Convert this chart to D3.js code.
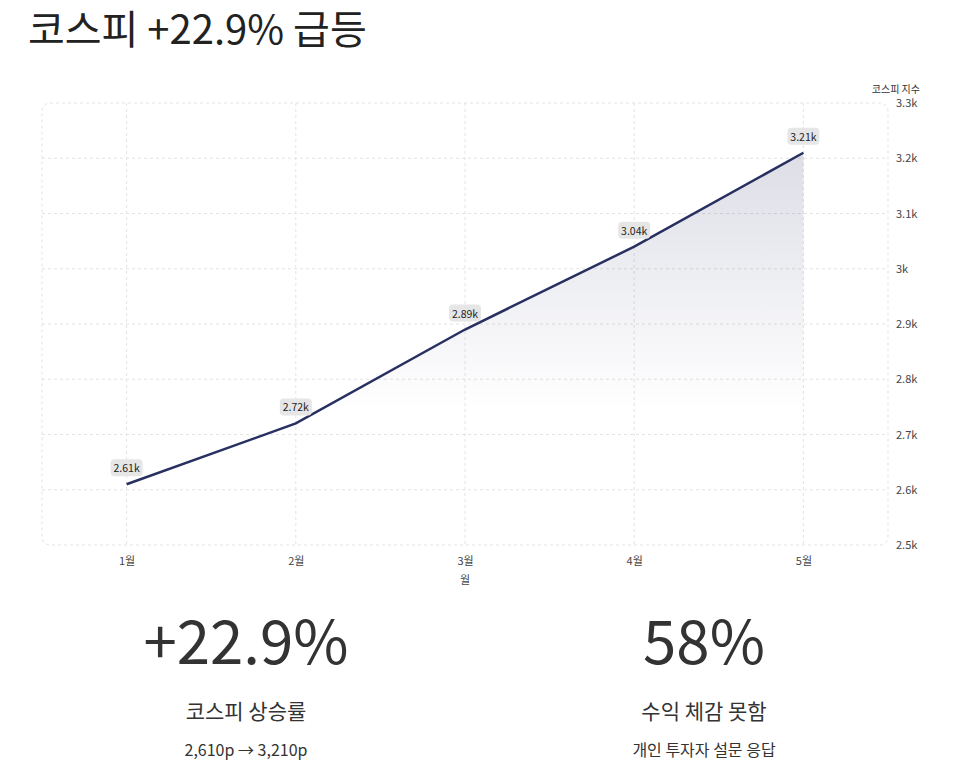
<!DOCTYPE html>
<html><head><meta charset="utf-8">
<script src="https://cdn.jsdelivr.net/npm/d3@7"></script>
<style>
body{margin:0;background:#fff;font-family:"Noto Sans CJK KR","Noto Sans",sans-serif;}
</style></head>
<body><svg id="c" width="966" height="777"></svg>
<script>
var months = ['1월','2월','3월','4월','5월'];
var kospi = [2610, 2720, 2890, 3040, 3210];
var yTicks = [2500,2600,2700,2800,2900,3000,3100,3200,3300];

var svg = d3.select('#c');
var pLeft = 42, pRight = 888, pTop = 103, pBottom = 545;
var font = '"Noto Sans CJK KR","Noto Sans",sans-serif';

svg.append('text').attr('x', 28).attr('y', 44).attr('font-size', 40).attr('fill', '#222')
  .attr('font-family', font).text('코스피 +22.9% 급등');

var x = d3.scalePoint().domain(months).range([pLeft, pRight]).padding(0.5);
var y = d3.scaleLinear().domain([2500, 3300]).range([pBottom, pTop]);
var fmt = function(v){ return v % 1000 === 0 ? (v/1000) + 'k' : (v/1000).toFixed(v % 100 === 0 ? 1 : 2) + 'k'; };

var defs = svg.append('defs');
var g = defs.append('linearGradient').attr('id', 'fill').attr('x1', 0).attr('x2', 0)
  .attr('gradientUnits', 'userSpaceOnUse').attr('y1', y(3210)).attr('y2', 410);
g.append('stop').attr('offset', 0).attr('stop-color', '#2a3163').attr('stop-opacity', 0.16);
g.append('stop').attr('offset', 1).attr('stop-color', '#2a3163').attr('stop-opacity', 0);

var grid = svg.append('g').attr('stroke', '#e3e3e3').attr('stroke-dasharray', '3,3').attr('fill', 'none');
grid.selectAll('.h').data(yTicks.slice(1, -1)).enter().append('line')
  .attr('x1', pLeft).attr('x2', pRight).attr('y1', d => y(d)).attr('y2', d => y(d));
grid.selectAll('.v').data(months).enter().append('line')
  .attr('x1', d => x(d)).attr('x2', d => x(d)).attr('y1', pTop).attr('y2', pBottom);
grid.append('rect').attr('x', pLeft).attr('y', pTop).attr('width', pRight - pLeft).attr('height', pBottom - pTop).attr('rx', 8);

var data = months.map((m, i) => ({m: m, v: kospi[i]}));
svg.append('path').datum(data).attr('fill', 'url(#fill)')
  .attr('d', d3.area().x(d => x(d.m)).y0(pBottom).y1(d => y(d.v)));
svg.append('path').datum(data).attr('fill', 'none').attr('stroke', '#283061').attr('stroke-width', 2.5)
  .attr('d', d3.line().x(d => x(d.m)).y(d => y(d.v)));

var yAxis = svg.append('g').attr('transform', 'translate(' + pRight + ',0)')
  .call(d3.axisRight(y).tickValues(yTicks).tickFormat(fmt).tickSize(0).tickPadding(8));
yAxis.select('.domain').remove();
yAxis.selectAll('text').attr('font-size', 11).attr('fill', '#444').attr('font-family', font);
svg.append('text').attr('x', 920).attr('y', 93).attr('text-anchor', 'end').attr('font-size', 10)
  .attr('fill', '#333').attr('font-family', font).text('코스피 지수');

var xAxis = svg.append('g').attr('transform', 'translate(0,' + pBottom + ')')
  .call(d3.axisBottom(x).tickSize(0).tickPadding(12));
xAxis.select('.domain').remove();
xAxis.selectAll('text').attr('font-size', 11).attr('fill', '#444').attr('font-family', font);
svg.append('text').attr('x', (pLeft + pRight) / 2).attr('y', 584).attr('text-anchor', 'middle').attr('font-size', 11)
  .attr('fill', '#444').attr('font-family', font).text('월');

var lab = svg.selectAll('.lab').data(data).enter().append('g')
  .attr('transform', d => 'translate(' + x(d.m) + ',' + (y(d.v) - 16) + ')');
lab.append('rect').attr('x', -16).attr('y', -9).attr('width', 32).attr('height', 17).attr('rx', 4).attr('fill', '#e6e6e6');
lab.append('text').attr('text-anchor', 'middle').attr('dy', 4).attr('font-size', 10.5).attr('fill', '#222')
  .attr('font-family', font).text(d => fmt(d.v));

var stats = [
  {cx: 246, big: '+22.9%', title: '코스피 상승률', sub: '2,610p → 3,210p'},
  {cx: 704, big: '58%', title: '수익 체감 못함', sub: '개인 투자자 설문 응답'}
];
var st = svg.selectAll('.st').data(stats).enter().append('g').attr('font-family', font).attr('text-anchor', 'middle');
st.append('text').attr('x', d => d.cx).attr('y', 664).attr('font-size', 60).attr('fill', '#333').text(d => d.big);
st.append('text').attr('x', d => d.cx).attr('y', 719).attr('font-size', 21).attr('fill', '#333').text(d => d.title);
st.append('text').attr('x', d => d.cx).attr('y', 756).attr('font-size', 16).attr('fill', '#333').text(d => d.sub);
</script></body></html>
